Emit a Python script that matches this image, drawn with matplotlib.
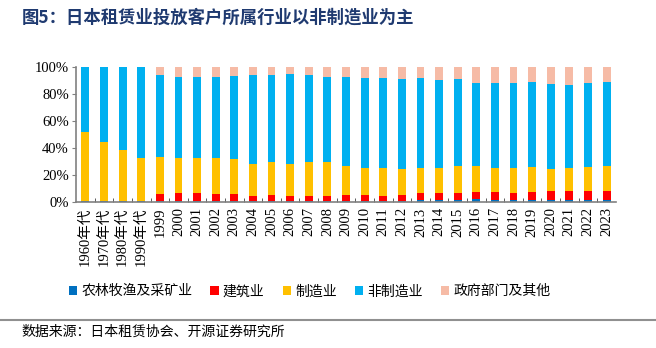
import numpy as np
import matplotlib
matplotlib.use("Agg")
import matplotlib.pyplot as plt
from matplotlib.ticker import FixedLocator

plt.rcParams['font.family'] = ['Liberation Serif', 'Noto Sans CJK SC']

# 行业结构（%）
years = ['1960年代', '1970年代', '1980年代', '1990年代'] + [str(y) for y in range(1999, 2024)]
agri = [0.3, 0.3, 0.3, 0.3, 0.5, 0.5, 0.5, 0.5, 0.5, 0.5, 0.5, 0.5, 0.5, 0.5, 0.8,
        0.6, 0.6, 0.6, 0.9, 0.9, 1.2, 1.8, 1.0, 1.0, 1.0, 1.0, 1.0, 1.0, 1.0]
constr = [0.0, 0.0, 0.0, 0.0, 5.5, 5.7, 6.2, 5.5, 5.5, 4.0, 4.2, 4.0, 4.0, 4.0, 4.4,
          4.4, 3.9, 4.4, 5.6, 5.8, 5.5, 5.6, 6.2, 5.7, 6.2, 6.7, 7.2, 7.2, 7.2]
manuf = [51.8, 44.3, 38.4, 32.4, 27.0, 26.3, 26.1, 26.5, 26.0, 23.8, 24.6, 23.8, 25.0, 25.3, 21.6,
         20.1, 20.6, 19.1, 18.6, 18.1, 19.9, 19.2, 17.9, 18.6, 18.6, 16.9, 16.6, 17.6, 18.1]
nonmanuf = [47.9, 55.4, 61.3, 67.3, 61.5, 60.3, 60.0, 60.0, 61.8, 66.2, 65.2, 66.9, 64.5, 63.0, 66.0,
            67.2, 67.2, 67.4, 66.9, 65.7, 64.5, 62.0, 63.5, 63.3, 63.5, 63.2, 62.3, 62.3, 63.0]
gov = [100 - a - b - c - d for a, b, c, d in zip(agri, constr, manuf, nonmanuf)]

series = [('农林牧渔及采矿业', agri, '#0070C0'),
          ('建筑业', constr, '#FF0000'),
          ('制造业', manuf, '#FFC000'),
          ('非制造业', nonmanuf, '#00B0F0'),
          ('政府部门及其他', gov, '#F6BBA6')]

fig = plt.figure(figsize=(6.56, 3.48), dpi=100)
ax = fig.add_axes([0.1154, 0.4204, 0.8232, 0.3862])

x = np.arange(len(years))
bottom = np.zeros(len(years))
handles = []
for name, vals, col in series:
    h = ax.bar(x, vals, width=0.42, bottom=bottom, color=col, label=name, linewidth=0)
    handles.append(h)
    bottom += np.array(vals)

ax.set_xlim(-0.52, 28.49)
ax.set_ylim(0, 100)
ax.set_yticks(range(0, 101, 20))
ax.set_yticklabels([f'{v}%' for v in range(0, 101, 20)], fontsize=10.5)
ax.set_xticks(x)
ax.set_xticklabels(years, rotation=90, fontsize=10.5)
ax.tick_params(axis='x', which='major', length=0, pad=4)
ax.xaxis.set_minor_locator(FixedLocator(x[:-1] + 0.5))
ax.tick_params(axis='x', which='minor', direction='in', length=3, color='#404040')
ax.tick_params(axis='y', length=3, color='#808080', pad=2)
for s in ['top', 'right']:
    ax.spines[s].set_visible(False)
ax.spines['left'].set_color('#808080')
ax.spines['bottom'].set_color('#808080')
ax.spines['left'].set_linewidth(1.2)
ax.spines['bottom'].set_linewidth(1.2)

fig.legend(handles=handles, loc='center', bbox_to_anchor=(0.472, 0.163), ncol=5,
           frameon=False, handlelength=0.6, handleheight=0.6,
           handletextpad=0.3, columnspacing=1.3, prop={'family': 'Noto Sans CJK SC', 'size': 10})

fig.text(0.033, 0.948, '图5：日本租赁业投放客户所属行业以非制造业为主', fontsize=12.5,
         fontweight='bold', color='#1F3A70', va='center', family='Noto Sans CJK SC')
fig.add_artist(plt.Line2D([0, 1], [0.08, 0.08], color='#909090', linewidth=1.5))
fig.text(0.033, 0.048, '数据来源：日本租赁协会、开源证券研究所', fontsize=10,
         va='center', family='Noto Sans CJK SC')

fig.savefig('out.png', dpi=100)
